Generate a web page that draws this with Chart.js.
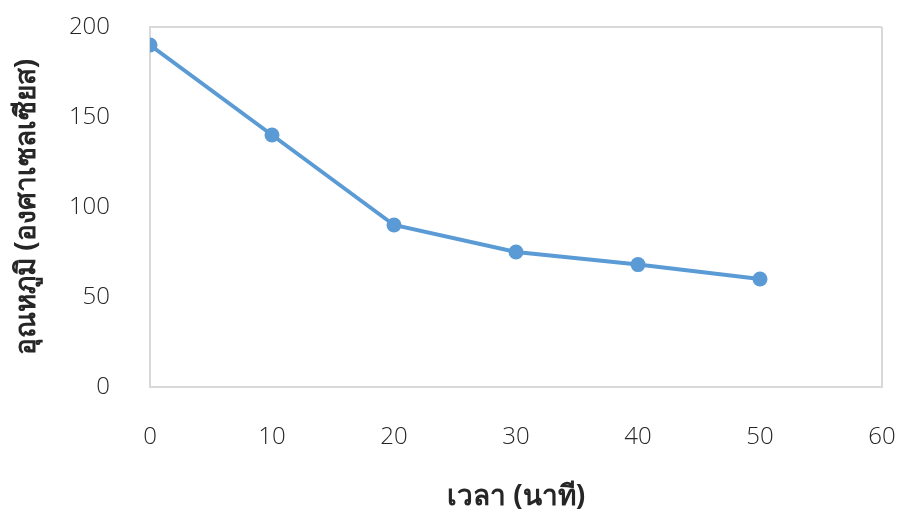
<!DOCTYPE html>
<html>
<head>
<meta charset="utf-8">
<script src="https://cdn.jsdelivr.net/npm/chart.js@4.4.1/dist/chart.umd.min.js"></script>
<style>
  html, body { margin: 0; padding: 0; background: #ffffff; }
  #wrap { width: 901px; height: 519px; position: relative; }
</style>
</head>
<body>
<div id="wrap"><canvas id="c" width="901" height="519"></canvas></div>
<script>
// Temperature readings over time
const timeMinutes = [0, 10, 20, 30, 40, 50];
const temperatureC = [190, 140, 90, 75, 68, 60];
const xTicks = [0, 10, 20, 30, 40, 50, 60];
const yTicks = [0, 50, 100, 150, 200];
const xTitle = 'เวลา (นาที)';
const yTitle = 'อุณหภูมิ (องศาเซลเซียส)';

const FRAME = '#d9d9d9';
const SERIES = '#5b9bd5';
const TICK_FONT = { family: "'Open Sans', 'Noto Sans', sans-serif", size: 24, weight: '300' };
const TITLE_FONT = { family: "'Noto Sans', 'Open Sans', sans-serif", size: 28, weight: 'bold' };

const points = timeMinutes.map((t, i) => ({ x: t, y: temperatureC[i] }));

new Chart(document.getElementById('c'), {
  type: 'line',
  data: {
    datasets: [{
      data: points,
      borderColor: SERIES,
      backgroundColor: SERIES,
      borderWidth: 4,
      pointRadius: 7.5,
      pointHoverRadius: 7.5,
      pointBackgroundColor: SERIES,
      pointBorderColor: SERIES,
      pointBorderWidth: 0,
      tension: 0,
      fill: false
    }]
  },
  options: {
    responsive: false,
    animation: false,
    devicePixelRatio: 1,
    layout: { padding: 0 },
    plugins: {
      legend: { display: false },
      tooltip: { enabled: false }
    },
    scales: {
      x: {
        type: 'linear',
        min: xTicks[0],
        max: xTicks[xTicks.length - 1],
        afterBuildTicks: (s) => { s.ticks = xTicks.map(v => ({ value: v })); },
        afterFit: (s) => {
          s.height = 132;
          s.paddingLeft = 0;
          s.paddingRight = 19;
        },
        grid: {
          drawTicks: false,
          lineWidth: 2,
          color: (ctx) => (ctx.tick && ctx.tick.value === xTicks[xTicks.length - 1]) ? FRAME : 'rgba(0,0,0,0)'
        },
        border: { color: FRAME, width: 2 },
        ticks: { color: '#262626', font: TICK_FONT, padding: 36, maxRotation: 0 },
        title: { display: true, text: xTitle, color: '#262626', font: TITLE_FONT, padding: { top: 0, bottom: 5 } }
      },
      y: {
        type: 'linear',
        min: yTicks[0],
        max: yTicks[yTicks.length - 1],
        afterBuildTicks: (s) => { s.ticks = yTicks.map(v => ({ value: v })); },
        afterFit: (s) => {
          s.width = 150;
          s.paddingTop = 27;
          s.paddingBottom = 0;
        },
        grid: {
          drawTicks: false,
          lineWidth: 2,
          color: (ctx) => (ctx.tick && ctx.tick.value === yTicks[yTicks.length - 1]) ? FRAME : 'rgba(0,0,0,0)'
        },
        border: { color: FRAME, width: 2 },
        ticks: { color: '#262626', font: TICK_FONT, padding: 40 },
        title: { display: true, text: yTitle, color: '#262626', font: TITLE_FONT, padding: { top: 10, bottom: 0 } }
      }
    }
  }
});
</script>
</body>
</html>
